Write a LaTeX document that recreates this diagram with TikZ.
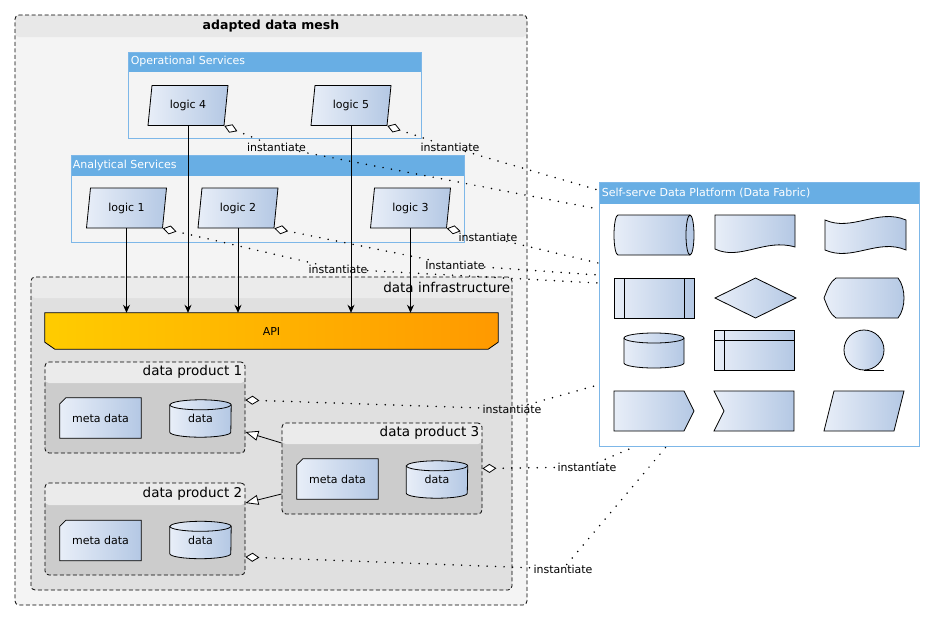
\documentclass[tikz,border=0pt]{standalone}
\usepackage{fontspec}
\setmainfont{DejaVu Sans}
\usetikzlibrary{arrows.meta,shapes.geometric,positioning}

\definecolor{meshbg}{HTML}{F4F4F4}
\definecolor{meshhead}{HTML}{E8E8E8}
\definecolor{infrabody}{HTML}{E0E0E0}
\definecolor{infrahead}{HTML}{EBEBEB}
\definecolor{prodbody}{HTML}{CCCCCC}
\definecolor{prodhead}{HTML}{EBEBEB}
\definecolor{svchead}{HTML}{68AEE4}
\definecolor{svcline}{HTML}{7DB7E8}
\definecolor{shapeL}{HTML}{E8EEF8}
\definecolor{shapeR}{HTML}{B4C8E4}
\definecolor{apiL}{HTML}{FFCC00}
\definecolor{apiR}{HTML}{FF9900}

\pgfdeclarelayer{back}
\pgfdeclarelayer{shapes}
\pgfsetlayers{back,shapes,main}

\tikzset{
  headband/.style 2 args={path picture={\fill[#1] (path picture bounding box.north west) rectangle ([yshift=-#2]path picture bounding box.north east);}},
  dashbox/.style={draw, dash pattern=on 4pt off 2.5pt, rounded corners=4pt, line width=0.8pt, inner sep=0pt},
  bluebox/.style={draw=svcline, line width=0.8pt, inner sep=0pt},
  shadefill/.style={draw=black, line width=0.8pt, left color=shapeL, right color=shapeR},
  txt/.style={font=\fontsize{11}{13}\selectfont, inner sep=0pt},
  bluetitle/.style={font=\fontsize{11}{13}\selectfont, text=white, anchor=west, inner sep=0pt},
  boxtitle/.style={font=\fontsize{13.5}{16}\selectfont, anchor=east, inner sep=0pt},
  logicbox/.style={trapezium, trapezium left angle=77, trapezium right angle=103,
    trapezium stretches body, minimum width=80pt, minimum height=40pt, shadefill,
    font=\fontsize{11}{13}\selectfont},
  metabox/.style={txt, minimum width=81pt, minimum height=40pt},
  databox/.style={txt, minimum width=61pt, minimum height=37pt},
  feeds/.style={-{Stealth[length=8pt,width=7pt]}, line width=0.8pt},
  extends/.style={-{Triangle[fill=white,length=13pt,width=10pt,line width=0.8pt]}, line width=0.8pt},
  dotline/.style={line width=1.7pt, line cap=round, dash pattern=on 0pt off 8.5pt},
  inst/.style={{Diamond[fill=white,length=14pt,width=9pt,line width=0.8pt]}-, dotline},
}

% meta data card and data cylinder round a text node
\newcommand{\metacard}[1]{%
  \begin{pgfonlayer}{shapes}
    \path[shadefill] ([xshift=6pt]#1.north west) -- (#1.north east) -- (#1.south east)
      -- (#1.south west) -- ([yshift=-6pt]#1.north west) -- cycle;
  \end{pgfonlayer}}
\newcommand{\datacyl}[1]{%
  \begin{pgfonlayer}{shapes}
    \path[shadefill] ([yshift=-5pt]#1.north west) -- ([yshift=5pt]#1.south west)
      arc[start angle=180, end angle=360, x radius=30.5, y radius=5]
      -- ([yshift=-5pt]#1.north east)
      arc[start angle=0, end angle=180, x radius=30.5, y radius=5] -- cycle;
    \draw[line width=0.8pt] ([yshift=-5pt]#1.north west)
      arc[start angle=180, end angle=360, x radius=30.5, y radius=5];
  \end{pgfonlayer}}

\begin{document}
\begin{tikzpicture}[x=1pt, y=1pt]
\useasboundingbox (0,0) rectangle (935,-621);

% containers
\begin{pgfonlayer}{back}
  \fill[white] (0,0) rectangle (935,-621);
  \node[dashbox, fill=meshbg, headband={meshhead}{22pt}, minimum width=512pt, minimum height=590pt] (mesh) at (271,-310) {};
  \node[bluebox, headband={svchead}{20pt}, minimum width=293pt, minimum height=86pt] (ops) at (274.5,-95) {};
  \node[bluebox, headband={svchead}{21pt}, minimum width=393pt, minimum height=87pt] (ana) at (267.5,-198.5) {};
  \node[dashbox, fill=infrabody, headband={infrahead}{21pt}, minimum width=481pt, minimum height=313pt] (infra) at (271.5,-433.5) {};
  \node[dashbox, fill=prodbody, headband={prodhead}{21pt}, minimum width=200pt, minimum height=91pt] (dp1) at (145,-407.5) {};
  \node[dashbox, fill=prodbody, headband={prodhead}{22pt}, minimum width=200pt, minimum height=92pt] (dp2) at (145,-529) {};
  \node[dashbox, fill=prodbody, headband={prodhead}{21pt}, minimum width=200pt, minimum height=91pt] (dp3) at (382,-468.5) {};
  \node[bluebox, fill=white, headband={svchead}{22pt}, minimum width=320pt, minimum height=264pt] (plat) at (759,-314) {};
\end{pgfonlayer}

% titles
\node[font=\bfseries\fontsize{12.5}{15}\selectfont, inner sep=0pt] at (271,-26) {adapted data mesh};
\node[bluetitle] at ([xshift=3pt,yshift=-10pt]ops.north west) {Operational Services};
\node[bluetitle] at ([xshift=2pt,yshift=-10.5pt]ana.north west) {Analytical Services};
\node[bluetitle] at ([xshift=3pt,yshift=-11pt]plat.north west) {Self-serve Data Platform (Data Fabric)};
\node[boxtitle] at ([xshift=-2pt,yshift=-10.5pt]infra.north east) {data infrastructure};
\node[boxtitle] at ([xshift=-3pt,yshift=-10.5pt]dp1.north east) {data product 1};
\node[boxtitle] at ([xshift=-3pt,yshift=-11pt]dp2.north east) {data product 2};
\node[boxtitle] at ([xshift=-3pt,yshift=-10.5pt]dp3.north east) {data product 3};

% services
\node[logicbox] (l4) at (188,-105.5) {logic 4};
\node[logicbox] (l5) at (351,-105.5) {logic 5};
\node[logicbox] (l1) at (126.5,-208) {logic 1};
\node[logicbox] (l2) at (238,-208) {logic 2};
\node[logicbox] (l3) at (410.5,-208) {logic 3};

% API
\node[txt, minimum width=453pt, minimum height=36pt] (api) at (271.5,-331) {API};
\begin{pgfonlayer}{shapes}
  \path[draw, line width=0.8pt, left color=apiL, right color=apiR]
    (api.north west) -- (api.north east) -- ([yshift=7pt]api.south east)
    -- ([xshift=-10pt]api.south east) -- ([xshift=10pt]api.south west)
    -- ([yshift=7pt]api.south west) -- cycle;
\end{pgfonlayer}

% data products
\node[metabox] (m1) at ([shift={(-44.5,-10.5)}]dp1.center) {meta data};
\node[databox] (d1) at ([shift={(55.5,-11)}]dp1.center) {data};
\node[metabox] (m2) at ([shift={(-44.5,-11.5)}]dp2.center) {meta data};
\node[databox] (d2) at ([shift={(55.5,-11)}]dp2.center) {data};
\node[metabox] (m3) at ([shift={(-44.5,-10.5)}]dp3.center) {meta data};
\node[databox] (d3) at ([shift={(55,-11)}]dp3.center) {data};
\metacard{m1}\datacyl{d1}
\metacard{m2}\datacyl{d2}
\metacard{m3}\datacyl{d3}

% platform shapes
\begin{pgfonlayer}{shapes}
  \path[shadefill] (618,-215) -- (690,-215) arc[start angle=90, end angle=-90, x radius=4, y radius=20]
    -- (618,-255) arc[start angle=270, end angle=90, x radius=4, y radius=20] -- cycle;
  \draw[line width=0.8pt] (690,-215) arc[start angle=90, end angle=270, x radius=4, y radius=20];
  \path[shadefill] (715,-215) -- (795,-215) -- (795,-247)
    .. controls (765,-238) and (740,-261) .. (715,-249) -- cycle;
  \path[shadefill] (825,-220) .. controls (852,-232) and (878,-208) .. (906,-220)
    -- (906,-250) .. controls (878,-238) and (852,-262) .. (825,-250) -- cycle;

  \path[shadefill] (614,-278) rectangle (694,-318);
  \draw[line width=0.8pt] (624,-278) -- (624,-318) (684,-278) -- (684,-318);
  \path[shadefill] (715,-298) -- (755.5,-278) -- (796,-298) -- (755.5,-318) -- cycle;
  \path[shadefill] (824,-298) .. controls (828,-288) and (830,-282) .. (836,-278) -- (898,-278)
    .. controls (906,-288) and (906,-308) .. (898,-318) -- (836,-318)
    .. controls (830,-314) and (828,-308) .. (824,-298) -- cycle;

  \path[shadefill] (624,-338) -- (624,-363) arc[start angle=180, end angle=360, x radius=30, y radius=5]
    -- (684,-338) arc[start angle=0, end angle=180, x radius=30, y radius=5] -- cycle;
  \draw[line width=0.8pt] (624,-338) arc[start angle=180, end angle=360, x radius=30, y radius=5];
  \path[shadefill] (714,-330) rectangle (794,-370);
  \draw[line width=0.8pt] (724,-330) -- (724,-370) (714,-340) -- (794,-340);
  \path[shadefill] (864,-350) circle[radius=20];
  \draw[line width=0.8pt] (864,-370) -- (884,-370);

  \path[shadefill] (614,-391) -- (684,-391) -- (694,-411) -- (684,-431) -- (614,-431) -- cycle;
  \path[shadefill] (714,-391) -- (794,-391) -- (794,-431) -- (714,-431) -- (724,-411) -- cycle;
  \path[shadefill] (834,-391) -- (904,-391) -- (894,-431) -- (824,-431) -- cycle;
\end{pgfonlayer}

% calls into the API
\foreach \l in {l1,l2,l3,l4,l5}
  \draw[feeds] (\l.center |- \l.south) -- (\l.center |- api.north);

% inheritance
\draw[extends] ([yshift=25.5pt]dp3.west) -- ([yshift=-24.5pt]dp1.east);
\draw[extends] ([yshift=-25.5pt]dp3.west) -- ([yshift=26pt]dp2.east);

% instantiate links
\node[txt] (lb5) at (450,-147) {instantiate};
\node[txt] (lb4) at (276.5,-147) {instantiate};
\node[txt] (lb3) at (488,-237) {instantiate};
\node[txt] (lb2) at (455,-265) {Instantiate};
\node[txt] (lb1) at (338,-269) {instantiate};
\node[txt] (lbp1) at (512,-409) {instantiate};
\node[txt] (lbp3) at (587,-467) {instantiate};
\node[txt] (lbp2) at (563,-569) {instantiate};
\coordinate (t5) at (598,-190);
\coordinate (t4) at (598,-209);
\coordinate (t3) at (598,-263);
\coordinate (t2) at (598,-275);
\coordinate (t1) at (598,-283);
\coordinate (tp1) at (598,-385);
\coordinate (tp3) at (634,-447);
\coordinate (tp2) at (666,-447);

\draw[inst] (l5.bottom right corner) -- (lb5);
\draw[dotline] (lb5) -- (t5);
\draw[inst] (l4.bottom right corner) -- (lb4);
\draw[dotline] (lb4) -- (t4);
\draw[inst] (l3.bottom right corner) -- (lb3);
\draw[dotline] (lb3) -- (t3);
\draw[inst] (l2.bottom right corner) -- (lb2);
\draw[dotline] (lb2) -- (t2);
\draw[inst] (l1.bottom right corner) -- (lb1);
\draw[dotline] (lb1) -- (t1);
\draw[inst] ([yshift=7.5pt]dp1.east) -- (lbp1);
\draw[dotline] (lbp1) -- (tp1);
\draw[inst] (dp3.east) -- (lbp3);
\draw[dotline] (lbp3) -- (tp3);
\draw[inst] ([yshift=-28pt]dp2.east) -- (lbp2);
\draw[dotline] (lbp2) -- (tp2);
\end{tikzpicture}
\end{document}
